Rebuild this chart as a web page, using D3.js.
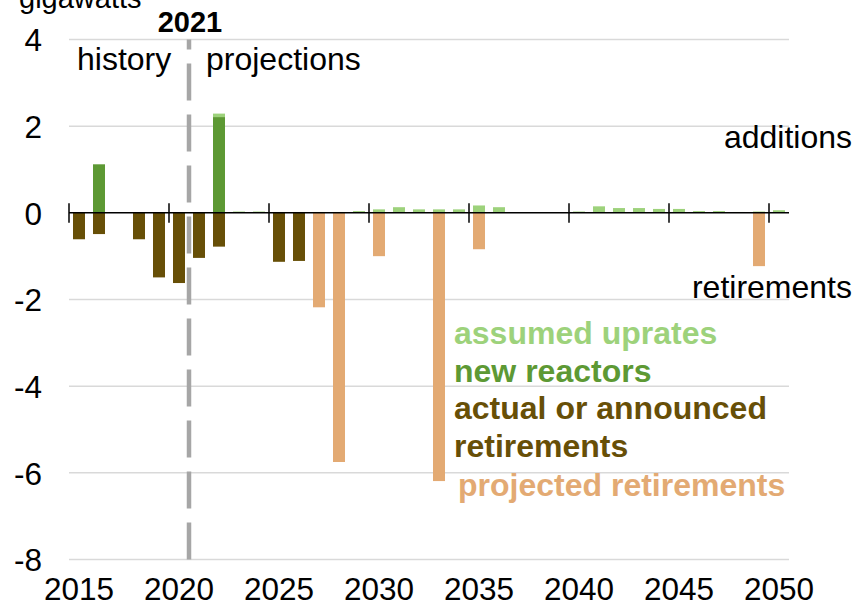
<!DOCTYPE html>
<html>
<head>
<meta charset="utf-8">
<script src="https://cdn.jsdelivr.net/npm/d3@7"></script>
<style>
  body { margin: 0; background: #fff; }
  svg { display: block; font-family: "Liberation Sans", Arial, sans-serif; }
</style>
</head>
<body>
<svg id="chart" width="856" height="603"></svg>
<script>
// Categories and series (gigawatts)
const years = d3.range(2015, 2051);

const assumedUprates = [
  0, 0, 0, 0, 0, 0, 0,
  0.08, 0.03, 0.03, 0.02, 0.02, 0.02, 0.02, 0.04,
  0.08, 0.13, 0.08, 0.08, 0.08, 0.17, 0.13, 0, 0, 0,
  0.03, 0.15, 0.11, 0.11, 0.09, 0.09, 0.04, 0.04, 0.02, 0.03, 0.06,
];
const newReactors = [
  0, 1.12, 0, 0, 0, 0, 0,
  2.21, 0, 0, 0, 0, 0, 0, 0,
  0, 0, 0, 0, 0, 0, 0, 0, 0, 0,
  0, 0, 0, 0, 0, 0, 0, 0, 0, 0, 0,
];
const actualRetirements = [
  -0.61, -0.49, 0, -0.61, -1.49, -1.62, -1.04,
  -0.78, 0, 0, -1.13, -1.11, 0, 0, 0,
  0, 0, 0, 0, 0, 0, 0, 0, 0, 0,
  0, 0, 0, 0, 0, 0, 0, 0, 0, 0, 0,
];
const projectedRetirements = [
  0, 0, 0, 0, 0, 0, 0,
  0, 0, 0, 0, 0, -2.18, -5.75, 0,
  -1.0, 0, 0, -6.19, 0, -0.84, 0, 0, 0, 0,
  0, 0, 0, 0, 0, 0, 0, 0, 0, -1.23, 0,
];

const yTicks = [-8, -6, -4, -2, 0, 2, 4];
const xTickYears = [2015, 2020, 2025, 2030, 2035, 2040, 2045, 2050];

const seriesKeys = ["new", "uprates", "actual", "projected"];
const colours = {
  uprates: "#9dd27b",
  new: "#5d9934",
  actual: "#674f07",
  projected: "#e3aa73",
};

// Build rows for the stack
const rows = years.map((yr, i) => ({
  year: yr,
  new: newReactors[i],
  uprates: assumedUprates[i],
  actual: actualRetirements[i],
  projected: projectedRetirements[i],
}));

const svg = d3.select("#chart");
const plotLeft = 69, plotRight = 789, plotTop = 39.5, plotBottom = 559.5;

const x = d3.scaleBand()
  .domain(years)
  .range([plotLeft, plotRight])
  .paddingInner(0.4)
  .paddingOuter(0.2);

const y = d3.scaleLinear().domain([-8, 4]).range([plotBottom, plotTop]);

const edge = (yr) => x(yr) - (x.step() - x.bandwidth()) / 2;

// Gridlines
svg.append("g")
  .selectAll("line")
  .data(yTicks.filter((d) => d !== 0))
  .join("line")
  .attr("x1", plotLeft)
  .attr("x2", plotRight)
  .attr("y1", (d) => y(d))
  .attr("y2", (d) => y(d))
  .attr("stroke", "#d9d9d9")
  .attr("stroke-width", 1.5);

// Y axis labels (plain hyphen for negatives, like the original)
const yAxis = svg.append("g")
  .attr("transform", `translate(${plotLeft - 27},0)`)
  .call(d3.axisLeft(y).tickValues(yTicks).tickSize(0).tickFormat((d) => String(d)));
yAxis.select(".domain").remove();
yAxis.selectAll("text")
  .attr("font-size", 31.5)
  .attr("font-family", "Liberation Sans, Arial, sans-serif")
  .attr("fill", "#000")
  .attr("x", 0)
  .attr("dy", "0.36em");

// Dashed history / projections divider
svg.append("line")
  .attr("x1", edge(2021))
  .attr("x2", edge(2021))
  .attr("y1", plotBottom)
  .attr("y2", plotTop)
  .attr("stroke", "#a6a6a6")
  .attr("stroke-width", 4.5)
  .attr("stroke-dasharray", "37,14");

// Stacked bars
const stack = d3.stack().keys(seriesKeys).offset(d3.stackOffsetDiverging);
const layers = stack(rows);

svg.append("g")
  .selectAll("g")
  .data(layers)
  .join("g")
  .attr("fill", (d) => colours[d.key])
  .selectAll("rect")
  .data((d) => d.filter((p) => p[1] - p[0] !== 0))
  .join("rect")
  .attr("x", (d) => x(d.data.year))
  .attr("width", x.bandwidth())
  .attr("y", (d) => y(Math.max(d[0], d[1])))
  .attr("height", (d) => Math.abs(y(d[0]) - y(d[1])));

// Zero axis with ticks at five-year boundaries
svg.append("line")
  .attr("x1", plotLeft)
  .attr("x2", plotRight)
  .attr("y1", y(0))
  .attr("y2", y(0))
  .attr("stroke", "#000")
  .attr("stroke-width", 1.5);

svg.append("g")
  .selectAll("line")
  .data(xTickYears)
  .join("line")
  .attr("x1", (d) => edge(d))
  .attr("x2", (d) => edge(d))
  .attr("y1", y(0) - 9.5)
  .attr("y2", y(0) + 10)
  .attr("stroke", "#000")
  .attr("stroke-width", 1.5);

// X axis labels
const xAxis = svg.append("g")
  .attr("transform", `translate(0,${plotBottom})`)
  .call(d3.axisBottom(x).tickValues(xTickYears).tickSize(0));
xAxis.select(".domain").remove();
xAxis.selectAll("text")
  .attr("font-size", 31.5)
  .attr("font-family", "Liberation Sans, Arial, sans-serif")
  .attr("fill", "#000")
  .attr("y", 40)
  .attr("dy", 0);

// Annotations
const notes = [
  { text: "gigawatts", x: 19, y: 8, anchor: "start", size: 29, weight: "normal", fill: "#000" },
  { text: "2021", x: 190, y: 32, anchor: "middle", size: 29, weight: "bold", fill: "#000" },
  { text: "history", x: 77, y: 70, anchor: "start", size: 32, weight: "normal", fill: "#000" },
  { text: "projections", x: 206, y: 70, anchor: "start", size: 32, weight: "normal", fill: "#000" },
  { text: "additions", x: 852, y: 148, anchor: "end", size: 32, weight: "normal", fill: "#000" },
  { text: "retirements", x: 852, y: 298, anchor: "end", size: 32, weight: "normal", fill: "#000" },
  { text: "assumed uprates", x: 454, y: 344, anchor: "start", size: 32, weight: "bold", fill: colours.uprates },
  { text: "new reactors", x: 454, y: 382, anchor: "start", size: 32, weight: "bold", fill: colours.new },
  { text: "actual or announced", x: 454, y: 419, anchor: "start", size: 32, weight: "bold", fill: colours.actual },
  { text: "retirements", x: 454, y: 457, anchor: "start", size: 32, weight: "bold", fill: colours.actual },
  { text: "projected retirements", x: 458, y: 496, anchor: "start", size: 32, weight: "bold", fill: colours.projected },
];

svg.append("g")
  .selectAll("text")
  .data(notes)
  .join("text")
  .attr("x", (d) => d.x)
  .attr("y", (d) => d.y)
  .attr("text-anchor", (d) => d.anchor)
  .attr("font-size", (d) => d.size)
  .attr("font-weight", (d) => d.weight)
  .attr("fill", (d) => d.fill)
  .text((d) => d.text);
</script>
</body>
</html>
